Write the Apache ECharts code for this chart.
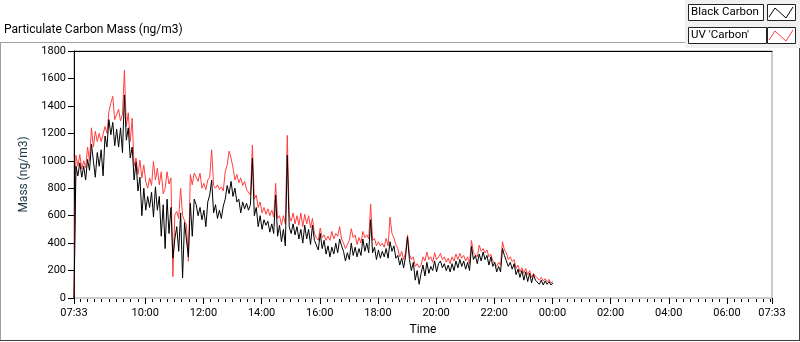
<!DOCTYPE html>
<html>
<head>
<meta charset="utf-8">
<script src="https://cdn.jsdelivr.net/npm/echarts@6/dist/echarts.min.js"></script>
<style>
	html, body { margin: 0; padding: 0; background: #fff; }
	#main { width: 800px; height: 342px; }
</style>
</head>
<body>
<div id="main"></div>
<script>
	// samples every 4 min from 07:33 (minutes since midnight)
	var startMinute = 453;
	var stepMinute = 4;
	var seriesNames = ['Black Carbon', "UV 'Carbon'"];

	var blackCarbon = [
		0, 960, 890, 985, 880, 960, 860, 1010, 930, 1120,
		1000, 880, 1060, 960, 1080, 890, 1180, 1100, 1300, 1190,
		1280, 1110, 1230, 1100, 1240, 1060, 1480, 1150, 1240, 1020,
		1100, 860, 990, 780, 880, 600, 800, 640, 740, 660,
		770, 590, 810, 640, 740, 450, 680, 360, 720, 470,
		660, 290, 430, 520, 340, 620, 145, 550, 560, 300,
		690, 450, 720,
		680, 600, 660, 570, 640, 520, 700, 750, 860, 620,
		680, 580, 640, 580, 670, 720, 820, 760, 850, 740,
		800, 700, 720, 620, 700, 650, 690, 640, 680, 1020,
		600, 660, 520, 600, 500, 570, 530, 560, 480, 540,
		470, 750, 450, 530, 410, 500, 380, 1040, 520, 470,
		540, 460, 520, 430, 500, 400, 530, 430, 500, 390,
		530, 420, 430, 350,
		470, 360, 420, 320, 380, 300, 370, 320, 400, 330,
		430, 380, 340, 270, 330, 280, 400, 310, 370, 300,
		360, 310, 430, 340, 400, 330, 570, 330, 370, 280,
		350, 290, 340, 300, 360, 290, 410, 340, 380, 290,
		310, 240, 290, 220, 300, 445, 280, 200, 260, 130,
		200, 100, 180, 240, 160, 260, 180, 230, 200, 270,
		190, 250,
		270, 220, 250, 200, 240, 190, 250, 200, 270, 220,
		280, 230, 270, 210, 260, 200, 375, 280, 310, 250,
		320, 270, 335, 280, 310, 240, 300, 230, 260, 190,
		230, 190, 360, 310, 270, 230, 260, 210, 250, 170,
		210, 150, 200, 130, 190, 120, 180, 110, 170, 130,
		140, 100, 130, 95, 125, 100, 120, 95, 110
	];

	var uvCarbon = [
		0, 1040, 960, 1045, 940, 1000, 950, 1100, 1000, 1240,
		1100, 1215, 1140, 1200, 1140, 1150, 1250, 1200, 1360, 1420,
		1470, 1300, 1310, 1375, 1290, 1340, 1660, 1250, 1350, 1140,
		1310, 960, 1020, 900, 1005, 875, 970, 850, 800, 875,
		820, 995, 860, 945, 825, 920, 760, 800, 920, 830,
		875, 155, 605, 630, 580, 800, 600, 605, 530, 268,
		900, 825, 910,
		900, 850, 910, 800, 835, 790, 860, 880, 1080, 820,
		800, 825, 790, 810, 780, 920, 970, 1070, 1020, 950,
		860, 900, 840, 875, 820, 850, 790, 780, 750, 1115,
		720, 750, 660, 700, 620, 660, 610, 650, 600, 640,
		590, 835, 580, 600, 530, 600, 540, 1185, 600, 560,
		620, 540, 600, 530, 620, 520, 610, 540, 600, 510,
		580, 470, 440, 420,
		510, 440, 460, 420, 450, 420, 485, 430, 470, 450,
		520, 430, 400, 360, 390, 420, 505, 440, 460, 390,
		440, 400, 485, 440, 460, 430, 685, 420, 435, 380,
		410, 380, 400, 370, 435, 380, 590, 470, 440, 390,
		360, 300, 340, 280, 330, 460, 320, 280, 300, 230,
		250, 220, 240, 300, 270, 335, 280, 300, 260, 330,
		280, 300,
		325, 280, 300, 260, 290, 250, 300, 270, 320, 280,
		325, 290, 310, 270, 300, 250, 420, 330, 335, 300,
		385, 340, 360, 330, 350, 300, 320, 270, 265, 230,
		260, 240, 410, 350, 330, 280, 300, 265, 280, 215,
		240, 190, 220, 180, 215, 170, 200, 150, 180, 160,
		155, 130, 150, 125, 140, 120, 135, 110, 120
	];

	// x axis labels (minutes since midnight, day 1 -> day 2)
	var tickLabelMinutes = [453, 600, 720, 840, 960, 1080, 1200, 1320, 1440, 1560, 1680, 1800, 1893];
	var yTicks = [0, 200, 400, 600, 800, 1000, 1200, 1400, 1600, 1800];

	var axisMin = 453, axisMax = 1893;
	var minorTicks = [];
	for (var t = 465; t < axisMax; t += 15) minorTicks.push(t);

	function toPairs(arr) {
		return arr.map(function(v, i) {
			return [startMinute + i * stepMinute, v];
		});
	}

	function fmtTime(v) {
		var m = Math.round(v) % 1440;
		var hh = Math.floor(m / 60), mm = m % 60;
		return (hh < 10 ? '0' : '') + hh + ':' + (mm < 10 ? '0' : '') + mm;
	}

	var font = 'Roboto, "Noto Sans", sans-serif';

	var option = {
		animation: false,
		backgroundColor: '#fff',
		title: {
			text: 'Particulate Carbon Mass (ng/m3)',
			left: 4,
			top: 24,
			padding: 0,
			textStyle: { fontFamily: font, fontSize: 12, fontWeight: 'normal', color: '#000' }
		},
		grid: {
			left: 74, top: 51, right: 28, bottom: 44,
			show: true, borderColor: '#9a9a9a', borderWidth: 1, backgroundColor: '#fff'
		},
		xAxis: [{
			type: 'value', min: axisMin, max: axisMax, position: 'bottom', offset: 1,
			axisLine: { show: false },
			axisTick: { show: true, customValues: tickLabelMinutes, length: 6, lineStyle: { color: '#000' } },
			axisLabel: {
				customValues: tickLabelMinutes, formatter: fmtTime, margin: 9,
				fontFamily: font, fontSize: 11, color: '#000'
			},
			splitLine: { show: false },
			name: 'Time', nameLocation: 'middle', nameGap: 17,
			nameTextStyle: { fontFamily: font, fontSize: 12, color: '#000' }
		}, {
			type: 'value', min: axisMin, max: axisMax, position: 'bottom', offset: 1,
			axisLine: { show: false },
			axisTick: { show: true, customValues: minorTicks, length: 3, lineStyle: { color: '#000' } },
			axisLabel: { show: false },
			splitLine: { show: false }
		}, {
			type: 'value', min: axisMin, max: axisMax, position: 'top',
			axisLine: { show: true, lineStyle: { color: '#000' } },
			axisTick: { show: false },
			axisLabel: { show: false },
			splitLine: { show: false }
		}],
		yAxis: {
			type: 'value', min: 0, max: 1800, interval: 200,
			axisLine: { show: true, lineStyle: { color: '#000' } },
			axisTick: { show: true, length: 6, lineStyle: { color: '#000' } },
			axisLabel: {
				customValues: yTicks, margin: 8,
				formatter: function(v) { return String(v); },
				fontFamily: font, fontSize: 11, color: '#000'
			},
			splitLine: { show: false },
			name: 'Mass (ng/m3)', nameLocation: 'middle', nameGap: 43, nameRotate: 90,
			nameTextStyle: { fontFamily: font, fontSize: 12, color: '#1f3a44' }
		},
		series: [{
			name: seriesNames[1],
			type: 'line',
			data: toPairs(uvCarbon),
			showSymbol: false,
			lineStyle: { color: '#ff3f3f', width: 1 },
			itemStyle: { color: '#ff3f3f' },
			z: 2
		}, {
			name: seriesNames[0],
			type: 'line',
			data: toPairs(blackCarbon),
			showSymbol: false,
			lineStyle: { color: '#000', width: 1 },
			itemStyle: { color: '#000' },
			z: 3
		}],
		graphic: [
			// outer frame
			{ type: 'line', shape: { x1: 0, y1: 42.5, x2: 685, y2: 42.5 }, style: { stroke: '#a0a0a0', lineWidth: 1 } },
			{ type: 'line', shape: { x1: 0.5, y1: 42, x2: 0.5, y2: 341 }, style: { stroke: '#a0a0a0', lineWidth: 1 } },
			{ type: 'line', shape: { x1: 0, y1: 340.5, x2: 800, y2: 340.5 }, style: { stroke: '#404040', lineWidth: 1 } },
			{ type: 'line', shape: { x1: 799.5, y1: 48, x2: 799.5, y2: 341 }, style: { stroke: '#404040', lineWidth: 1 } },
			// legend panel
			{ type: 'rect', shape: { x: 685, y: 0, width: 115, height: 48 }, style: { fill: '#f0f0f0' } },
			{ type: 'rect', shape: { x: 688.5, y: 4.5, width: 75, height: 16 }, style: { fill: '#fff', stroke: '#222', lineWidth: 1 } },
			{ type: 'text', x: 691, y: 12.5, style: { text: seriesNames[0], fontFamily: font, fontSize: 11.5, fill: '#000', verticalAlign: 'middle' } },
			{ type: 'rect', shape: { x: 767.5, y: 4.5, width: 28, height: 16 }, style: { fill: '#fff', stroke: '#222', lineWidth: 1 } },
			{ type: 'polyline', shape: { points: [[769, 17], [775, 8], [786, 18], [793, 7]] }, style: { stroke: '#000', fill: null, lineWidth: 1 } },
			{ type: 'rect', shape: { x: 688.5, y: 27.5, width: 78, height: 16 }, style: { fill: '#fff', stroke: '#222', lineWidth: 1 } },
			{ type: 'text', x: 691, y: 35.5, style: { text: seriesNames[1], fontFamily: font, fontSize: 11.5, fill: '#000', verticalAlign: 'middle' } },
			{ type: 'rect', shape: { x: 767.5, y: 27.5, width: 28, height: 16 }, style: { fill: '#fff', stroke: '#222', lineWidth: 1 } },
			{ type: 'polyline', shape: { points: [[769, 40], [775, 31], [786, 41], [793, 30]] }, style: { stroke: '#ff3f3f', fill: null, lineWidth: 1 } }
		]
	};

	var myChart = echarts.init(document.getElementById('main'));
	myChart.setOption(option, true);
</script>
</body>
</html>
